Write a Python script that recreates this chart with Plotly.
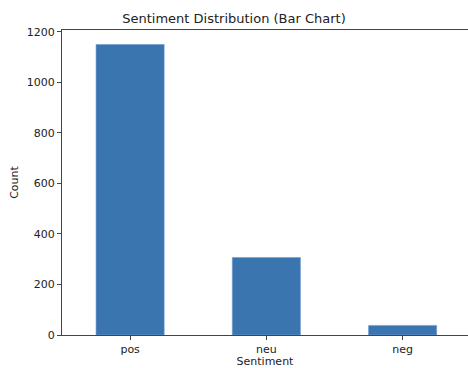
import plotly.graph_objects as go

categories = ["pos", "neu", "neg"]
counts = [1150, 307, 38]
y_ticks = [0, 200, 400, 600, 800, 1000, 1200]

fig = go.Figure(go.Bar(
    x=list(range(len(categories))), y=counts, width=0.5,
    marker=dict(color="#3a75af", line=dict(color="#6f9bd0", width=0.6)),
))

fig.update_layout(
    width=468, height=368,
    margin=dict(l=62, r=0, t=30, b=33),
    paper_bgcolor="white", plot_bgcolor="white",
    font=dict(family="DejaVu Sans", size=11, color="#222222"),
    title=dict(text="Sentiment Distribution (Bar Chart)", x=0.5, xanchor="center",
               y=1 - 18 / 368, yanchor="middle", font=dict(size=13, color="#222222")),
    showlegend=False,
)
fig.update_xaxes(
    range=[-0.5, 2.48], tickmode="array", tickvals=list(range(len(categories))),
    ticktext=categories, showgrid=False, zeroline=False,
    showline=True, linecolor="#444444", linewidth=1, mirror=True,
    ticks="outside", ticklen=4, tickcolor="#444444",
    title=dict(text="Sentiment", standoff=2, font=dict(size=11)),
)
fig.update_yaxes(
    range=[0, 1207.5], tickmode="array", tickvals=y_ticks,
    showgrid=False, zeroline=False,
    showline=True, linecolor="#444444", linewidth=1,
    ticks="outside", ticklen=4, tickcolor="#444444",
    title=dict(text="Count", standoff=5, font=dict(size=11)),
)

fig.write_html(
    "out.html",
    config={"displayModeBar": False},
    post_script="document.body.style.margin='0';document.body.style.overflow='hidden';",
)
